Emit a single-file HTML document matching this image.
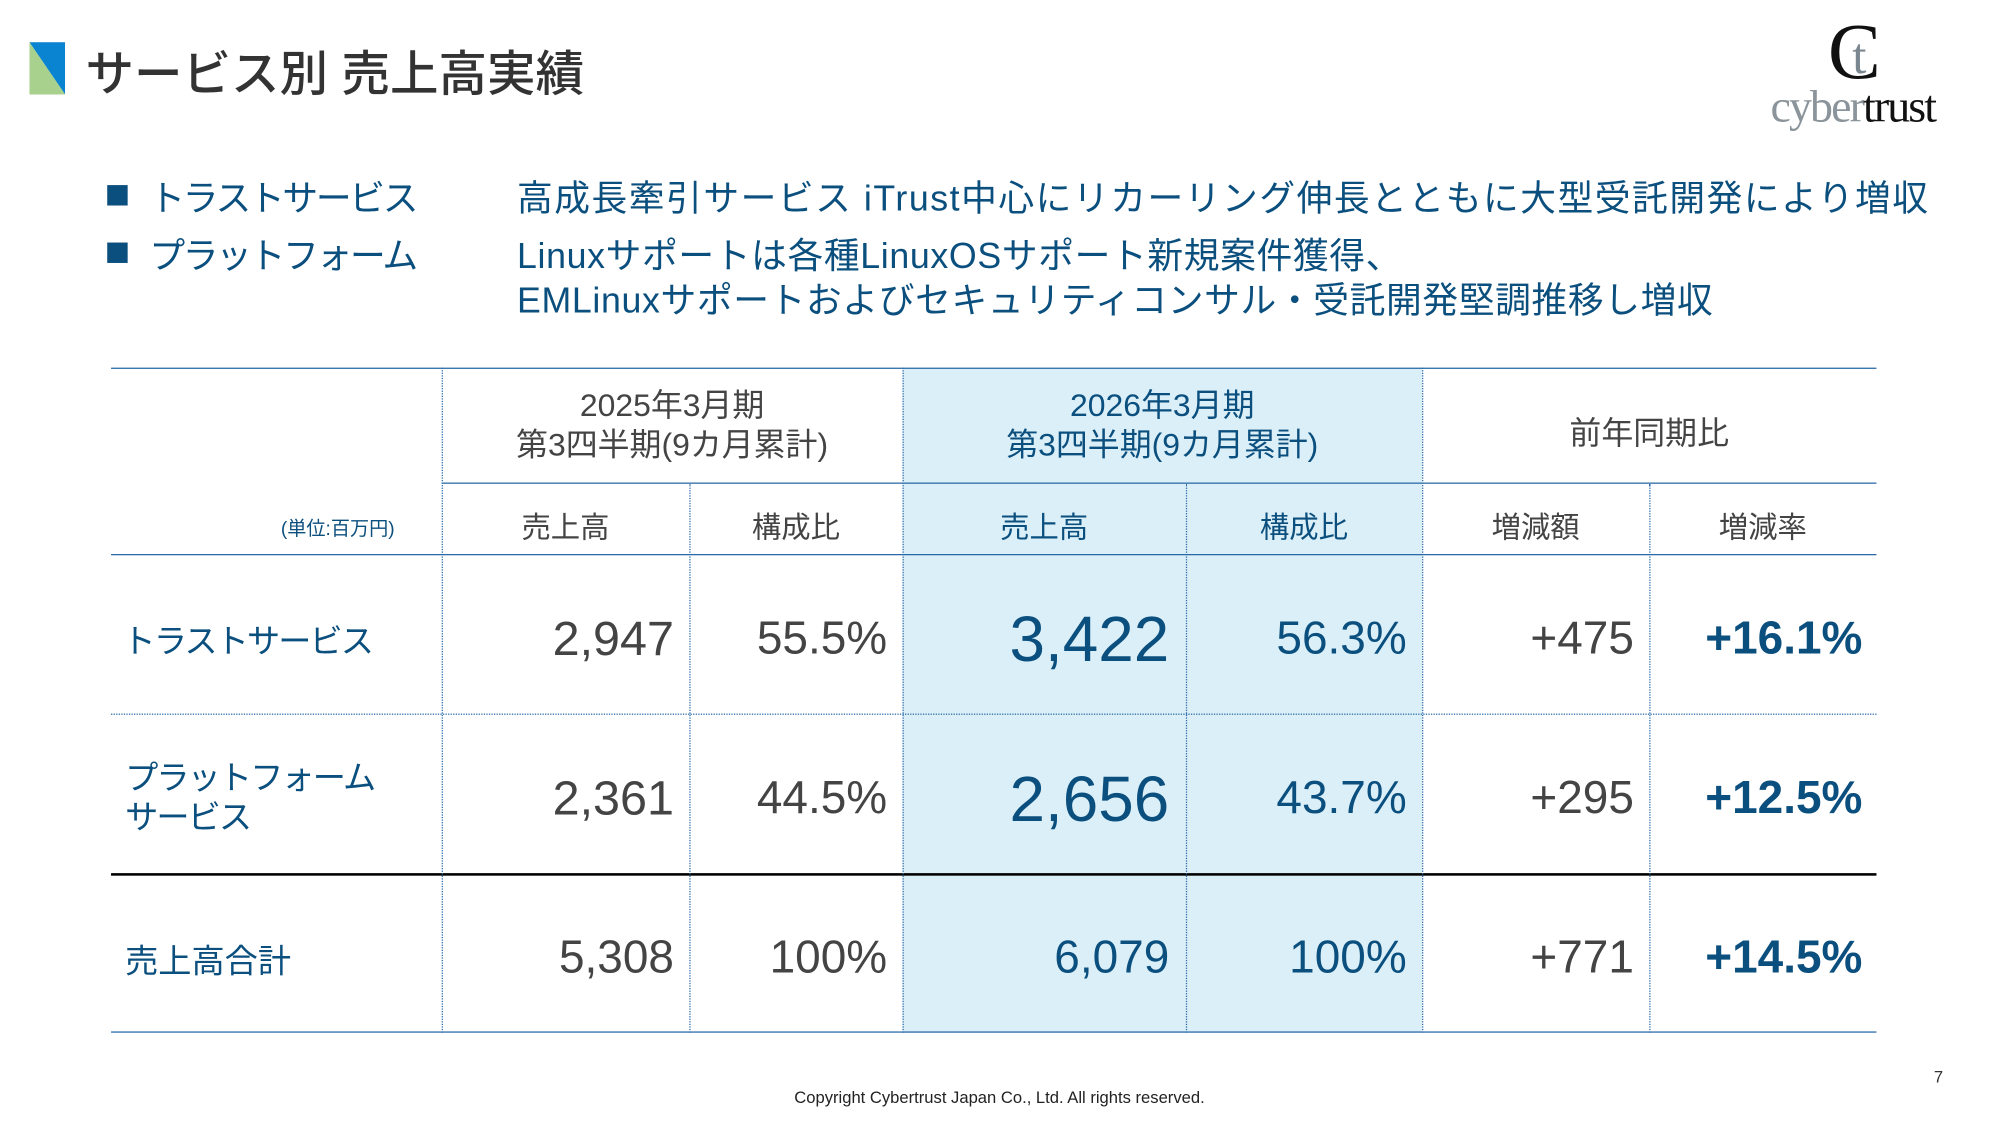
<!DOCTYPE html>
<html><head><meta charset="utf-8"><style>
html,body{margin:0;padding:0;background:#fff;width:2001px;height:1125px;overflow:hidden}
#w{position:absolute;left:0;top:0;width:1560px;height:877px;transform:scale(1.2765);transform-origin:0 0;font-family:"Liberation Sans","Noto Sans CJK JP",sans-serif}
.a{position:absolute;white-space:nowrap}
.b{color:#0b4f7e}.g{color:#444}
.hl{position:absolute;background:#dbeff8}
.hline{position:absolute;height:0}
.v{position:absolute;width:0;border-left:1px dotted #2a6aa8}
.num{position:absolute;text-align:right;white-space:nowrap;line-height:1}
.c{position:absolute;text-align:center;white-space:nowrap}
</style></head><body><div id="w">
<svg class="a" style="left:23px;top:33px" width="28" height="41"><polygon points="0,0 28,0 28,41" fill="#0a84d0"/><polygon points="0,0 28,41 0,41" fill="#a9d18e"/></svg>
<div class="a" style="left:67px;top:27px;font-size:38px;font-weight:500;color:#333">サービス別 売上高実績</div>
<div class="a" style="left:1432px;top:6px;font-family:'Liberation Serif',serif;font-size:62px;color:#111">C</div>
<div class="a" style="left:1451px;top:20px;font-family:'Liberation Serif',serif;font-size:40px;color:#7a8790">t</div>
<div class="a" style="left:1387px;top:62px;font-family:'Liberation Serif',serif;font-size:36px;letter-spacing:-1.5px"><span style="color:#8a949a">cyber</span><span style="color:#111">trust</span></div>

<div class="a" style="left:84px;top:145px;width:16px;height:16px;background:#0b4f7e"></div>
<div class="a" style="left:84px;top:190px;width:16px;height:16px;background:#0b4f7e"></div>
<div class="a b" style="left:117px;top:134px;font-size:28px;letter-spacing:-1.8px">トラストサービス</div>
<div class="a b" style="left:117px;top:179px;font-size:28px;letter-spacing:-1.8px">プラットフォーム</div>
<div class="a b" style="left:405px;top:134px;font-size:28px;letter-spacing:1.2px">高成長牽引サービス iTrust中心にリカーリング伸長とともに大型受託開発により増収</div>
<div class="a b" style="left:405px;top:179px;font-size:28px;letter-spacing:0.5px">Linuxサポートは各種LinuxOSサポート新規案件獲得、</div>
<div class="a b" style="left:405px;top:214px;font-size:28px;letter-spacing:0.5px">EMLinuxサポートおよびセキュリティコンサル・受託開発堅調推移し増収</div>

<div class="hl" style="left:707px;top:288px;width:407px;height:521px"></div>
<div class="hline" style="left:87px;top:288px;width:1383px;border-top:1.5px solid #2a6aa8"></div>
<div class="hline" style="left:346px;top:378px;width:1124px;border-top:1.5px solid #2a6aa8"></div>
<div class="hline" style="left:87px;top:434px;width:1383px;border-top:1.5px solid #2a6aa8"></div>
<div class="hline" style="left:87px;top:559px;width:1383px;border-top:1.5px dotted #2a6aa8"></div>
<div class="hline" style="left:87px;top:684px;width:1383px;border-top:2px solid #000"></div>
<div class="hline" style="left:87px;top:808px;width:1383px;border-top:1.5px solid #2a6aa8"></div>
<div class="v" style="left:346px;top:288px;height:521px"></div>
<div class="v" style="left:707px;top:288px;height:521px"></div>
<div class="v" style="left:1114px;top:288px;height:521px"></div>
<div class="v" style="left:540px;top:379px;height:430px"></div>
<div class="v" style="left:929px;top:379px;height:430px"></div>
<div class="v" style="left:1292px;top:379px;height:430px"></div>

<div class="c g" style="left:346px;width:361px;top:303px;font-size:25px;line-height:31px">2025年3月期<br>第3四半期(9カ月累計)</div>
<div class="c b" style="left:707px;width:407px;top:303px;font-size:25px;line-height:31px">2026年3月期<br>第3四半期(9カ月累計)</div>
<div class="c g" style="left:1114px;width:356px;top:320px;font-size:25px">前年同期比</div>
<div class="a b" style="left:220px;top:403px;font-size:15px">(単位:百万円)</div>
<div class="c g" style="left:346px;width:194px;top:394px;font-size:23px">売上高</div>
<div class="c g" style="left:540px;width:167px;top:394px;font-size:23px">構成比</div>
<div class="c b" style="left:707px;width:222px;top:394px;font-size:23px">売上高</div>
<div class="c b" style="left:929px;width:185px;top:394px;font-size:23px">構成比</div>
<div class="c g" style="left:1114px;width:178px;top:394px;font-size:23px">増減額</div>
<div class="c g" style="left:1292px;width:178px;top:394px;font-size:23px">増減率</div>

<div class="a b" style="left:96px;top:482px;font-size:26px;letter-spacing:-1.5px">トラストサービス</div>
<div class="a b" style="left:98px;top:594px;font-size:26px;line-height:31px;letter-spacing:-1.5px">プラットフォーム<br>サービス</div>
<div class="a b" style="left:98px;top:733px;font-size:26px">売上高合計</div>

<div class="num g" style="right:1032px;top:482px;font-size:38px">2,947</div>
<div class="num g" style="right:865px;top:482px;font-size:36px">55.5%</div>
<div class="num b" style="right:644px;top:476px;font-size:50px">3,422</div>
<div class="num b" style="right:458px;top:482px;font-size:36px">56.3%</div>
<div class="num g" style="right:280px;top:482px;font-size:36px">+475</div>
<div class="num b" style="right:101px;top:482px;font-size:36px;font-weight:bold">+16.1%</div>

<div class="num g" style="right:1032px;top:607px;font-size:38px">2,361</div>
<div class="num g" style="right:865px;top:607px;font-size:36px">44.5%</div>
<div class="num b" style="right:644px;top:601px;font-size:50px">2,656</div>
<div class="num b" style="right:458px;top:607px;font-size:36px">43.7%</div>
<div class="num g" style="right:280px;top:607px;font-size:36px">+295</div>
<div class="num b" style="right:101px;top:607px;font-size:36px;font-weight:bold">+12.5%</div>

<div class="num g" style="right:1032px;top:732px;font-size:36px">5,308</div>
<div class="num g" style="right:865px;top:732px;font-size:36px">100%</div>
<div class="num b" style="right:644px;top:732px;font-size:36px">6,079</div>
<div class="num b" style="right:458px;top:732px;font-size:36px">100%</div>
<div class="num g" style="right:280px;top:732px;font-size:36px">+771</div>
<div class="num b" style="right:101px;top:732px;font-size:36px;font-weight:bold">+14.5%</div>

<div class="a" style="left:1515px;top:836px;font-size:13px;color:#333">7</div>
<div class="c" style="left:0;width:1566px;top:852px;font-size:13px;color:#222">Copyright Cybertrust Japan Co., Ltd. All rights reserved.</div>
</div></body></html>
